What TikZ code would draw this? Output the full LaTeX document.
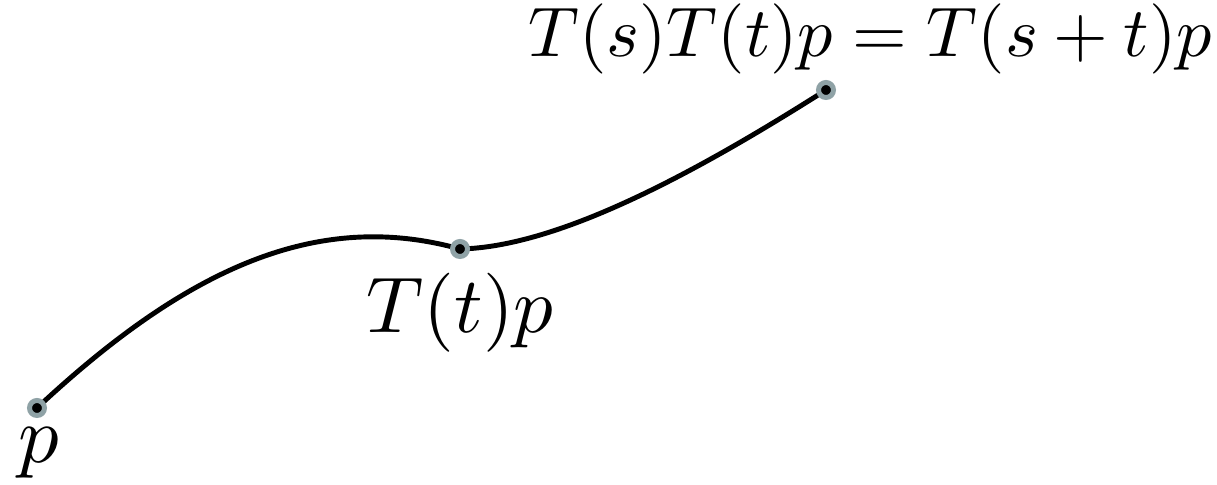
\documentclass[tikz,border=0pt]{standalone}
\usepackage{amsmath,amssymb}
\usetikzlibrary{positioning,calc}
\definecolor{ringgray}{HTML}{8FA2A6}

\begin{document}
\begin{tikzpicture}[
  pt/.style={circle,fill=black,draw=ringgray,line width=0.05cm,minimum size=0.15cm,inner sep=0pt},
  lab/.style={inner sep=0pt,anchor=base west},
  curve/.style={line width=1.4pt,line cap=round}
]
\useasboundingbox (0,0) rectangle (12.17,4.85);

\coordinate (p) at (0.37,0.77);
\coordinate (tp) at (4.60,2.36);
\coordinate (stp) at (8.26,3.95);

\draw[curve] (p) .. controls (1.9,2.2) and (3.2,2.75) .. (tp)
  .. controls (5.6,2.38) and (7.0,3.15) .. (stp);

\node[pt] (pdot) at (p) {};
\node[pt] (tpdot) at (tp) {};
\node[pt] (stpdot) at (stp) {};

\node[lab,scale=2.3] (plab) at (0.17,0.22) {$p$};
\node[lab,scale=2.25] (tplab) at (3.65,1.52) {$T(t)p$};
\node[lab,scale=2.0] (stplab) at (5.27,4.28) {$T(s)T(t)p=T(s+t)p$};

\end{tikzpicture}
\end{document}
